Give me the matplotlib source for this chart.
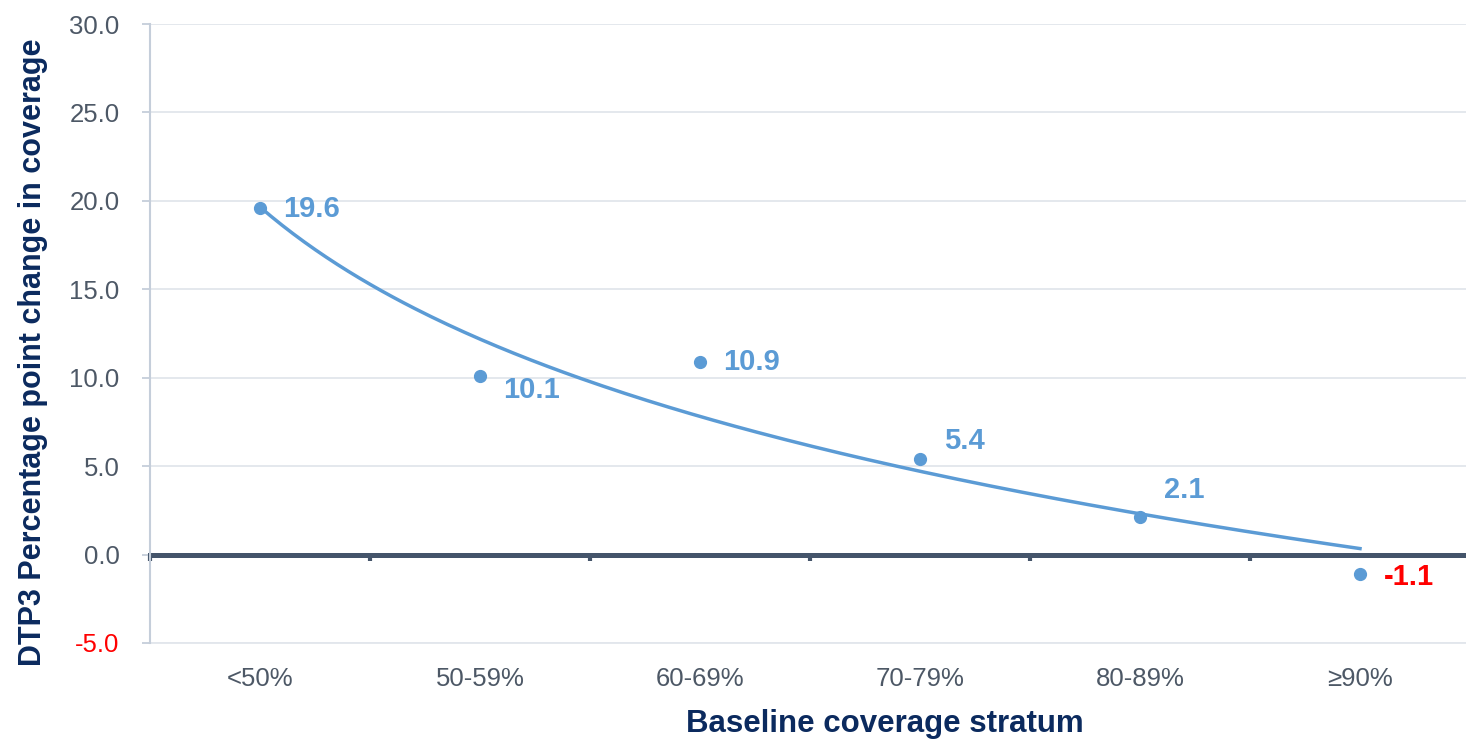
import numpy as np
import matplotlib.pyplot as plt

plt.rcParams['font.family'] = ['Liberation Sans', 'DejaVu Sans']

# baseline coverage strata and DTP3 change (percentage points)
strata = ['<50%', '50-59%', '60-69%', '70-79%', '80-89%', '≥90%']
change = [19.6, 10.1, 10.9, 5.4, 2.1, -1.1]
yticks = [-5.0, 0.0, 5.0, 10.0, 15.0, 20.0, 25.0, 30.0]

# where each value label sits relative to its point (points)
label_offsets = [(17, -1), (17, -10), (17, 0), (17, 13), (17, 20), (17, -2)]

blue = '#5B9BD5'
navy = '#0B2A5E'
slate = '#44546A'
tick_grey = '#4D5866'
light = '#C5CEDA'
grid_c = '#E2E6EC'

fig = plt.figure(figsize=(14.66, 7.39), dpi=100)
ax = fig.add_axes([150 / 1466, 96 / 739, 1320 / 1466, 619 / 739])

x = np.arange(len(strata))
y = np.array(change)

# logarithmic trendline (x = 1..n), as a spreadsheet would fit it
b, a = np.polyfit(np.log(x + 1), y, 1)
xs = np.linspace(0, len(strata) - 1, 200)
ax.plot(xs, a + b * np.log(xs + 1), color=blue, lw=2.5, zorder=3)

ax.plot(x, y, 'o', color=blue, ms=8.5, zorder=4)

for xi, yi, (dx, dy) in zip(x, y, label_offsets):
    ax.annotate(f'{yi:.1f}', (xi, yi), xytext=(dx, dy), textcoords='offset points',
                ha='left', va='center', fontsize=21, fontweight='bold',
                color='#FF0000' if yi < 0 else blue, zorder=5)

ax.set_xlim(-0.5, len(strata) - 0.5)
ax.set_ylim(-5, 30)

# zero line carries the category boundary ticks
ax.spines['bottom'].set_position(('data', 0))
ax.spines['bottom'].set_color(slate)
ax.spines['bottom'].set_linewidth(3.6)
ax.spines['bottom'].set_zorder(2)
ax.set_xticks(np.arange(len(strata) + 1) - 0.5)
ax.tick_params(axis='x', direction='out', length=4, width=3, color=slate, labelbottom=False)

sec = ax.secondary_xaxis('bottom')
sec.set_xticks(x)
sec.set_xticklabels(strata)
sec.tick_params(length=0, pad=17, labelsize=18.5, labelcolor=tick_grey)
sec.spines['bottom'].set_color(grid_c)
sec.spines['bottom'].set_linewidth(1.3)
sec.set_xlabel('Baseline coverage stratum', fontsize=22.5, fontweight='bold',
               color=navy)
sec.xaxis.set_label_coords(0.557, -0.107, transform=ax.transAxes)

ax.set_yticks(yticks)
ax.set_yticklabels([f'{v:.1f}' for v in yticks], fontsize=18.5, color=tick_grey)
ax.get_yticklabels()[0].set_color('#FF0000')
ax.tick_params(axis='y', direction='out', length=6, width=1.3, color=light, pad=16)
ax.spines['left'].set_color(light)
ax.spines['left'].set_linewidth(1.5)
for s in ['top', 'right']:
    ax.spines[s].set_visible(False)

ax.grid(axis='y', color=grid_c, lw=1.3, zorder=0)
ax.set_axisbelow(True)

ax.set_ylabel('DTP3 Percentage point change in coverage', fontsize=22, fontweight='bold',
              color=navy)
ax.yaxis.set_label_coords(-0.077, 0.47)

fig.savefig('out.png', dpi=100)
